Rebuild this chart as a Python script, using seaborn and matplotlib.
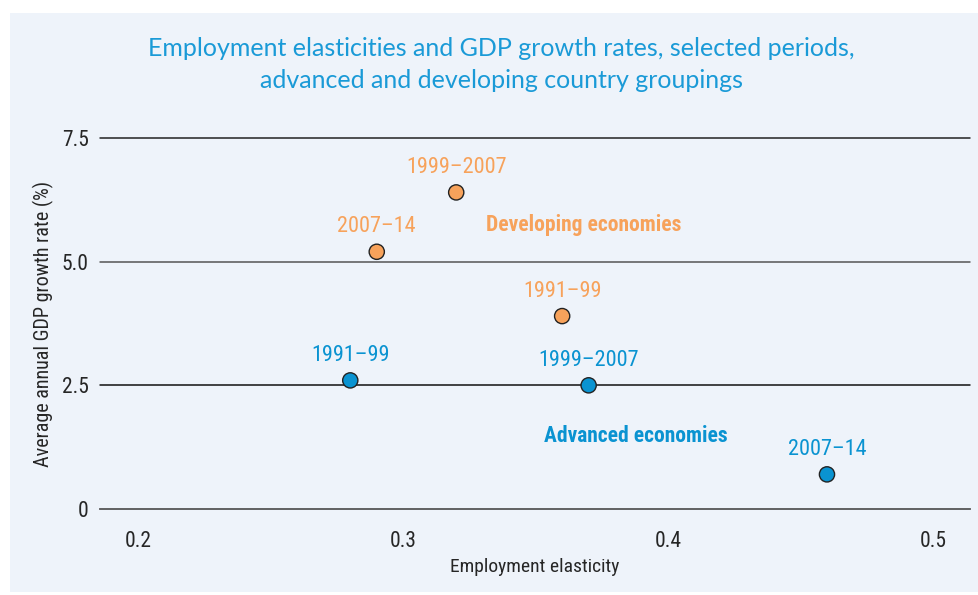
import matplotlib
matplotlib.use("Agg")
from matplotlib import pyplot as plt
from matplotlib import font_manager
import matplotlib.patches as mpatches
import numpy as np
import pandas as pd
import seaborn as sns

# data
dev_periods = ["1999–2007", "2007–14", "1991–99"]
dev_elasticity = [0.32, 0.29, 0.36]
dev_growth = [6.4, 5.2, 3.9]

adv_periods = ["1991–99", "1999–2007", "2007–14"]
adv_elasticity = [0.28, 0.37, 0.46]
adv_growth = [2.6, 2.5, 0.7]

x_ticks = [0.2, 0.3, 0.4, 0.5]
y_ticks = [0, 2.5, 5.0, 7.5]
y_ticklabels = ["0", "2.5", "5.0", "7.5"]

ORANGE = "#f7a25b"
BLUE = "#0a93d1"
TITLE_BLUE = "#1a9ad7"
BG = "#eef3fa"

df = pd.DataFrame({
    "group": ["Developing economies"] * 3 + ["Advanced economies"] * 3,
    "period": dev_periods + adv_periods,
    "elasticity": dev_elasticity + adv_elasticity,
    "growth": dev_growth + adv_growth,
})

sns.set_style("white")
names = {f.name for f in font_manager.fontManager.ttflist}
cond = dict(family="DejaVu Sans", fontstretch="condensed")
for fam in ["Liberation Sans Narrow", "Roboto Condensed", "Open Sans Condensed", "Noto Sans Condensed"]:
    if fam in names:
        cond = dict(family=fam)
        break
title_font = "Lato" if "Lato" in names else "DejaVu Sans"

fig = plt.figure(figsize=(9.79, 5.95), dpi=100)
fig.patch.set_facecolor("white")
fig.patches.append(mpatches.Rectangle((10 / 979, 1 - 592 / 595), 969 / 979, 579 / 595,
                                      transform=fig.transFigure, facecolor=BG,
                                      edgecolor="none", zorder=-10))

ax = fig.add_axes([100 / 979, 1 - 509 / 595, 870 / 979, 371 / 595])
ax.set_facecolor(BG)

for y, c in [(7.5, "#222222"), (5.0, "#555555"), (2.5, "#111111")]:
    ax.axhline(y, color=c, lw=1.1, clip_on=False, zorder=1)

sns.scatterplot(data=df, x="elasticity", y="growth", hue="group",
                palette={"Developing economies": ORANGE, "Advanced economies": BLUE},
                s=120, edgecolor="#222222", linewidth=1, legend=False,
                zorder=3, clip_on=False, ax=ax)

for _, r in df.iterrows():
    col = ORANGE if r["group"].startswith("Dev") else BLUE
    ax.annotate(r["period"], (r["elasticity"], r["growth"]), xytext=(0, 18),
                textcoords="offset points", ha="center", va="center",
                color=col, fontsize=16, **cond)

ax.text(0.368, 5.74, "Developing economies", color=ORANGE, fontsize=15.5,
        fontweight="bold", ha="center", va="center", **cond)
ax.text(0.388, 1.48, "Advanced economies", color=BLUE, fontsize=15.5,
        fontweight="bold", ha="center", va="center", **cond)

ax.set_xlim(0.1855, 0.514)
ax.set_ylim(0, 7.5)
ax.set_xticks(x_ticks)
ax.set_xticklabels([f"{v:.1f}" for v in x_ticks], fontsize=15.5, **cond)
ax.set_yticks(y_ticks)
ax.set_yticklabels(y_ticklabels, fontsize=15.5, **cond)
ax.tick_params(axis="x", length=11, width=1, color="#333333", pad=5)
ax.tick_params(axis="y", length=0, pad=8)

for s in ["top", "right", "left"]:
    ax.spines[s].set_visible(False)
ax.spines["bottom"].set_color("#555555")
ax.spines["bottom"].set_linewidth(1.3)

ax.set_xlabel("Employment elasticity", fontsize=14, labelpad=4, **cond)
ax.set_ylabel("Average annual GDP growth rate (%)", fontsize=14.5, labelpad=6, **cond)

fig.text(0.512, 1 - 48 / 595, "Employment elasticities and GDP growth rates, selected periods,",
         ha="center", va="center", color=TITLE_BLUE, fontsize=18, family=title_font)
fig.text(0.512, 1 - 81 / 595, "advanced and developing country groupings",
         ha="center", va="center", color=TITLE_BLUE, fontsize=18, family=title_font)

fig.savefig("out.png", dpi=100, facecolor=fig.get_facecolor())
